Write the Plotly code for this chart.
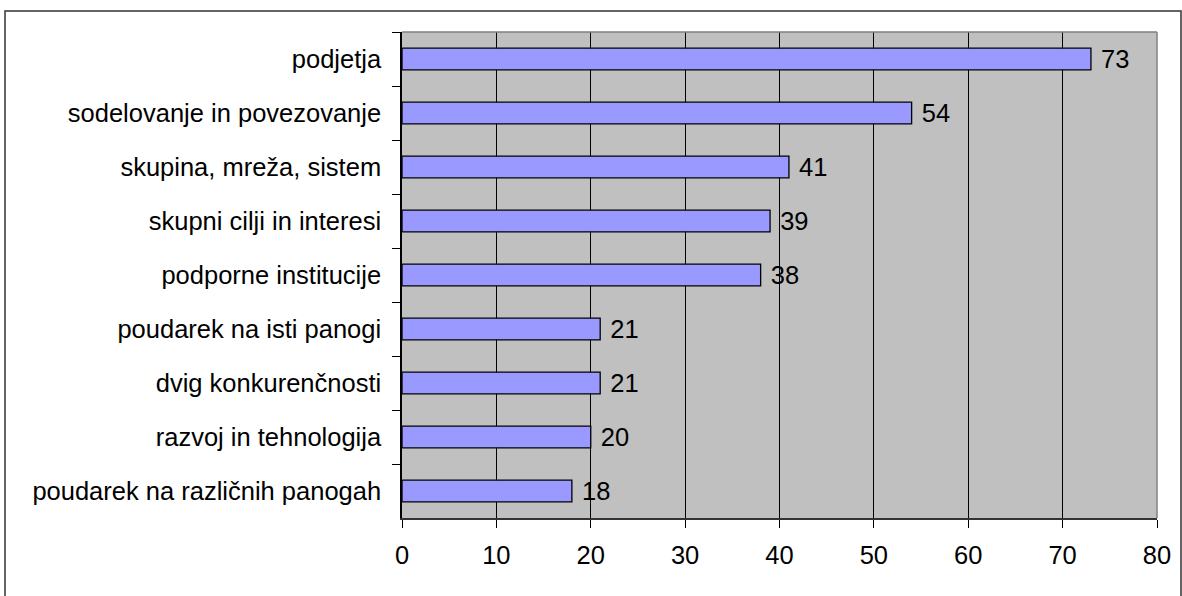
import plotly.graph_objects as go

categories = [
    "podjetja",
    "sodelovanje in povezovanje",
    "skupina, mreža, sistem",
    "skupni cilji in interesi",
    "podporne institucije",
    "poudarek na isti panogi",
    "dvig konkurenčnosti",
    "razvoj in tehnologija",
    "poudarek na različnih panogah",
]
values = [73, 54, 41, 39, 38, 21, 21, 20, 18]
x_ticks = [0, 10, 20, 30, 40, 50, 60, 70, 80]

FONT = "Liberation Sans, Arial, sans-serif"
FS = 25.5
W, H = 1182, 596
L, R, T, B = 402, 25, 32, 78
pw, ph = W - L - R, H - T - B

fig = go.Figure(go.Bar(
    y=categories,
    x=values,
    orientation="h",
    width=0.4,
    marker=dict(color="#9999FF", line=dict(color="#000000", width=1.3)),
    text=[" " + str(v) for v in values],
    textposition="outside",
    constraintext="none",
    textfont=dict(family=FONT, size=FS, color="#000000"),
    cliponaxis=False,
))

fig.update_layout(
    width=W, height=H,
    margin=dict(l=L, r=R, t=T, b=B, pad=0),
    paper_bgcolor="white",
    plot_bgcolor="#C0C0C0",
    showlegend=False,
    font=dict(family=FONT, size=FS, color="#000000"),
    xaxis=dict(
        range=[0, 80],
        tickvals=x_ticks,
        ticktext=[str(t) for t in x_ticks],
        showgrid=True, gridcolor="#000000", gridwidth=1,
        zeroline=False,
        showline=True, linecolor="#333333", linewidth=1.5,
        ticks="outside", ticklen=8, tickcolor="#000000", tickwidth=1,
        tickfont=dict(family=FONT, size=FS, color="#000000"),
        ticklabelstandoff=6,
    ),
    yaxis=dict(
        autorange="reversed",
        showgrid=False, zeroline=False,
        showline=True, linecolor="#000000", linewidth=1.5,
        ticks="outside", ticklen=8, tickcolor="#000000", tickwidth=1,
        tickson="boundaries",
        tickfont=dict(family=FONT, size=FS, color="#000000"),
        ticklabelstandoff=14,
    ),
    shapes=[
        dict(type="rect", xref="paper", yref="paper",
             x0=(5 - L) / pw, x1=(1181 - L) / pw,
             y0=-(600 - (H - B)) / ph,
             y1=(H - B - 11) / ph,
             line=dict(color="#333333", width=1.5), fillcolor="rgba(0,0,0,0)",
             layer="below"),
        dict(type="line", xref="paper", yref="paper", x0=0, x1=1, y0=1, y1=1,
             line=dict(color="#808080", width=1.5)),
        dict(type="line", xref="paper", yref="paper", x0=1, x1=1, y0=0, y1=1,
             line=dict(color="#808080", width=1.5)),
    ],
)

fig.write_html("out.html")
